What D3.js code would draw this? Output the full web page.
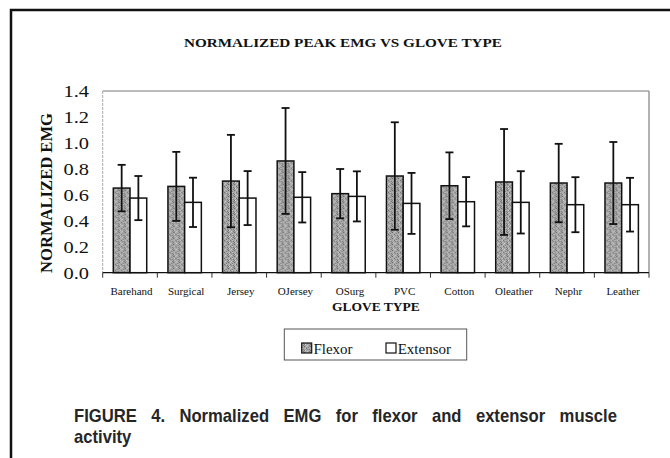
<!DOCTYPE html>
<html>
<head>
<meta charset="utf-8">
<script src="https://cdn.jsdelivr.net/npm/d3@7"></script>
<style>
  html, body { margin: 0; padding: 0; background: #fff; }
  svg { display: block; }
</style>
</head>
<body>
<svg id="chart" width="670" height="458"></svg>
<script>
// ---- data ----
const categories = ["Barehand", "Surgical", "Jersey", "OJersey", "OSurg", "PVC", "Cotton", "Oleather", "Nephr", "Leather"];
const seriesNames = ["Flexor", "Extensor"];
const flexor      = [0.652, 0.665, 0.706, 0.861, 0.609, 0.745, 0.670, 0.699, 0.691, 0.691];
const flexorErr   = [0.179, 0.266, 0.356, 0.408, 0.190, 0.414, 0.257, 0.408, 0.302, 0.316];
const extensor    = [0.575, 0.542, 0.575, 0.581, 0.588, 0.534, 0.547, 0.542, 0.524, 0.524];
const extensorErr = [0.170, 0.190, 0.208, 0.194, 0.193, 0.235, 0.190, 0.240, 0.212, 0.207];
const yTicks = [0.0, 0.2, 0.4, 0.6, 0.8, 1.0, 1.2, 1.4];
const titleText = "NORMALIZED PEAK EMG VS GLOVE TYPE";
const yTitle = "NORMALIZED EMG";
const xTitle = "GLOVE TYPE";
const captionLines = ["FIGURE 4.  Normalized EMG for flexor and extensor muscle", "activity"];

// ---- layout ----
const serif = "'Liberation Serif', 'Times New Roman', serif";
const sans = "'Liberation Sans', Arial, sans-serif";
const plot = { left: 102.7, right: 649, top: 91, bottom: 272.7 };

const svg = d3.select("#chart");

// texture for flexor bars
const defs = svg.append("defs");
const pat = defs.append("pattern").attr("id", "stipple")
  .attr("patternUnits", "userSpaceOnUse").attr("width", 6).attr("height", 6);
pat.append("rect").attr("width", 6).attr("height", 6).attr("fill", "#a6a6a6");
const speck = [[0,0,"#6a6a6a"],[3,1,"#7c7c7c"],[1,3,"#cfcfcf"],[4,4,"#606060"],[2,5,"#808080"],[5,2,"#d2d2d2"],[0,4,"#c0c0c0"],[3,3,"#767676"],[5,0,"#c8c8c8"],[1,1,"#8a8a8a"],[4,2,"#707070"],[2,0,"#bdbdbd"]];
speck.forEach(s => pat.append("rect").attr("x", s[0]).attr("y", s[1]).attr("width", 1).attr("height", 1).attr("fill", s[2]));

// outer frame (extends beyond the right / bottom edge)
svg.append("rect").attr("x", 11).attr("y", 10).attr("width", 720).attr("height", 520)
  .attr("fill", "none").attr("stroke", "#111").attr("stroke-width", 2.5);

// title
svg.append("text").attr("x", 184).attr("y", 46.7)
  .attr("font-family", serif).attr("font-weight", "bold").attr("font-size", 13.5)
  .attr("textLength", 318).attr("lengthAdjust", "spacingAndGlyphs")
  .attr("fill", "#111").text(titleText);

// scales
const x0 = d3.scaleBand().domain(categories).range([plot.left, plot.right]).padding(0);
const x1 = d3.scaleBand().domain(seriesNames).range([0, x0.bandwidth()]).paddingInner(0).paddingOuter(0.635);
const y = d3.scaleLinear().domain([0, 1.4]).range([plot.bottom, plot.top]);

// plot frame
svg.append("line").attr("x1", plot.left).attr("x2", plot.right).attr("y1", plot.top).attr("y2", plot.top)
  .attr("stroke", "#777").attr("stroke-width", 1);
svg.append("line").attr("x1", plot.right).attr("x2", plot.right).attr("y1", plot.top).attr("y2", plot.bottom)
  .attr("stroke", "#999").attr("stroke-width", 1.5);
svg.append("line").attr("x1", plot.left).attr("x2", plot.left).attr("y1", plot.top).attr("y2", plot.bottom)
  .attr("stroke", "#aaa").attr("stroke-width", 1).attr("stroke-dasharray", "3,1");

// y tick labels (horizontally stretched like the scan)
const yLab = svg.append("g");
yTicks.forEach(t => {
  yLab.append("g").attr("transform", `translate(89,${y(t) + 6.4}) scale(1.2,1)`)
    .append("text").attr("text-anchor", "end")
    .attr("font-family", serif).attr("font-size", 17).attr("fill", "#111")
    .text(d3.format(".1f")(t));
});

// y title
svg.append("text")
  .attr("transform", `translate(51.5,${(113 + 273) / 2}) rotate(-90)`)
  .attr("text-anchor", "middle")
  .attr("font-family", serif).attr("font-weight", "bold").attr("font-size", 16)
  .attr("textLength", 160).attr("lengthAdjust", "spacingAndGlyphs")
  .attr("fill", "#111").text(yTitle);

// x axis
const xAxis = d3.axisBottom(x0).tickSize(0).tickFormat("");
const gx = svg.append("g").attr("transform", `translate(0,${plot.bottom})`).call(xAxis);
gx.select(".domain").attr("stroke", "#111").attr("stroke-width", 1.2).attr("d", `M${plot.left},0H${plot.right}`);
const boundaries = categories.map(c => x0(c)).concat([x0(categories[categories.length - 1]) + x0.bandwidth()]);
gx.selectAll("line.bt").data(boundaries).enter().append("line").attr("class", "bt")
  .attr("x1", d => d).attr("x2", d => d).attr("y1", 0).attr("y2", 5)
  .attr("stroke", "#333").attr("stroke-width", 1);
svg.append("g").selectAll("text").data(categories).enter().append("text")
  .attr("x", d => x0(d) + x0.bandwidth() / 2 + 1.5).attr("y", 295)
  .attr("text-anchor", "middle").attr("font-family", serif).attr("font-size", 11)
  .attr("fill", "#111").text(d => d);

// x title
svg.append("text").attr("x", (plot.left + plot.right) / 2).attr("y", 310.7)
  .attr("text-anchor", "middle").attr("font-family", serif).attr("font-weight", "bold")
  .attr("font-size", 13.5).attr("fill", "#111").text(xTitle);

// bars
const rows = categories.map((c, i) => ({
  cat: c,
  vals: [
    { s: "Flexor", v: flexor[i], e: flexorErr[i] },
    { s: "Extensor", v: extensor[i], e: extensorErr[i] }
  ]
}));
const fills = { Flexor: "url(#stipple)", Extensor: "#fff" };

const groups = svg.append("g").selectAll("g").data(rows).enter().append("g")
  .attr("transform", d => `translate(${x0(d.cat)},0)`);
groups.selectAll("rect").data(d => d.vals).enter().append("rect")
  .attr("x", d => x1(d.s)).attr("width", x1.bandwidth())
  .attr("y", d => y(d.v)).attr("height", d => y(0) - y(d.v))
  .attr("fill", d => fills[d.s]).attr("stroke", "#111").attr("stroke-width", 1.5);

// error bars
const capW = 8;
groups.each(function(d) {
  const g = d3.select(this);
  d.vals.forEach(v => {
    const cx = x1(v.s) + x1.bandwidth() / 2;
    const yt = y(v.v + v.e), yb = y(v.v - v.e);
    g.append("line").attr("x1", cx).attr("x2", cx).attr("y1", yt).attr("y2", yb)
      .attr("stroke", "#111").attr("stroke-width", 1.8);
    g.append("line").attr("x1", cx - capW / 2).attr("x2", cx + capW / 2).attr("y1", yt).attr("y2", yt)
      .attr("stroke", "#111").attr("stroke-width", 1.8);
    g.append("line").attr("x1", cx - capW / 2).attr("x2", cx + capW / 2).attr("y1", yb).attr("y2", yb)
      .attr("stroke", "#111").attr("stroke-width", 1.8);
  });
});

// legend
const lg = svg.append("g");
lg.append("rect").attr("x", 284.3).attr("y", 329).attr("width", 182.4).attr("height", 31)
  .attr("fill", "#fff").attr("stroke", "#555").attr("stroke-width", 1);
const legendX = { Flexor: 301.7, Extensor: 386 };
seriesNames.forEach(s => {
  lg.append("rect").attr("x", legendX[s]).attr("y", 343).attr("width", 10).attr("height", 10)
    .attr("fill", fills[s]).attr("stroke", "#111").attr("stroke-width", 1.2);
  lg.append("text").attr("x", legendX[s] + 11.7).attr("y", 354.3)
    .attr("font-family", serif).attr("font-size", 15).attr("fill", "#111").text(s);
});

// caption: justified first line, narrowed glyphs
const capSize = 18.5, capScale = 0.9;
function captionLine(str, xStart, yBase, justifyTo) {
  const words = str.split(/\s+/);
  const g = svg.append("g");
  const items = words.map(w => {
    const wg = g.append("g");
    const t = wg.append("text").attr("font-family", sans).attr("font-weight", "bold")
      .attr("font-size", capSize).attr("fill", "#262626").text(w);
    return { wg, w: t.node().getComputedTextLength() * capScale };
  });
  const total = d3.sum(items, d => d.w);
  const gap = justifyTo && items.length > 1 ? (justifyTo - total) / (items.length - 1) : capSize * 0.28;
  let xx = xStart;
  items.forEach(d => {
    d.wg.attr("transform", `translate(${xx},${yBase}) scale(${capScale},1)`);
    xx += d.w + gap;
  });
}
captionLine(captionLines[0], 74, 421.5, 543);
captionLine(captionLines[1], 74, 443, null);
</script>
</body>
</html>
